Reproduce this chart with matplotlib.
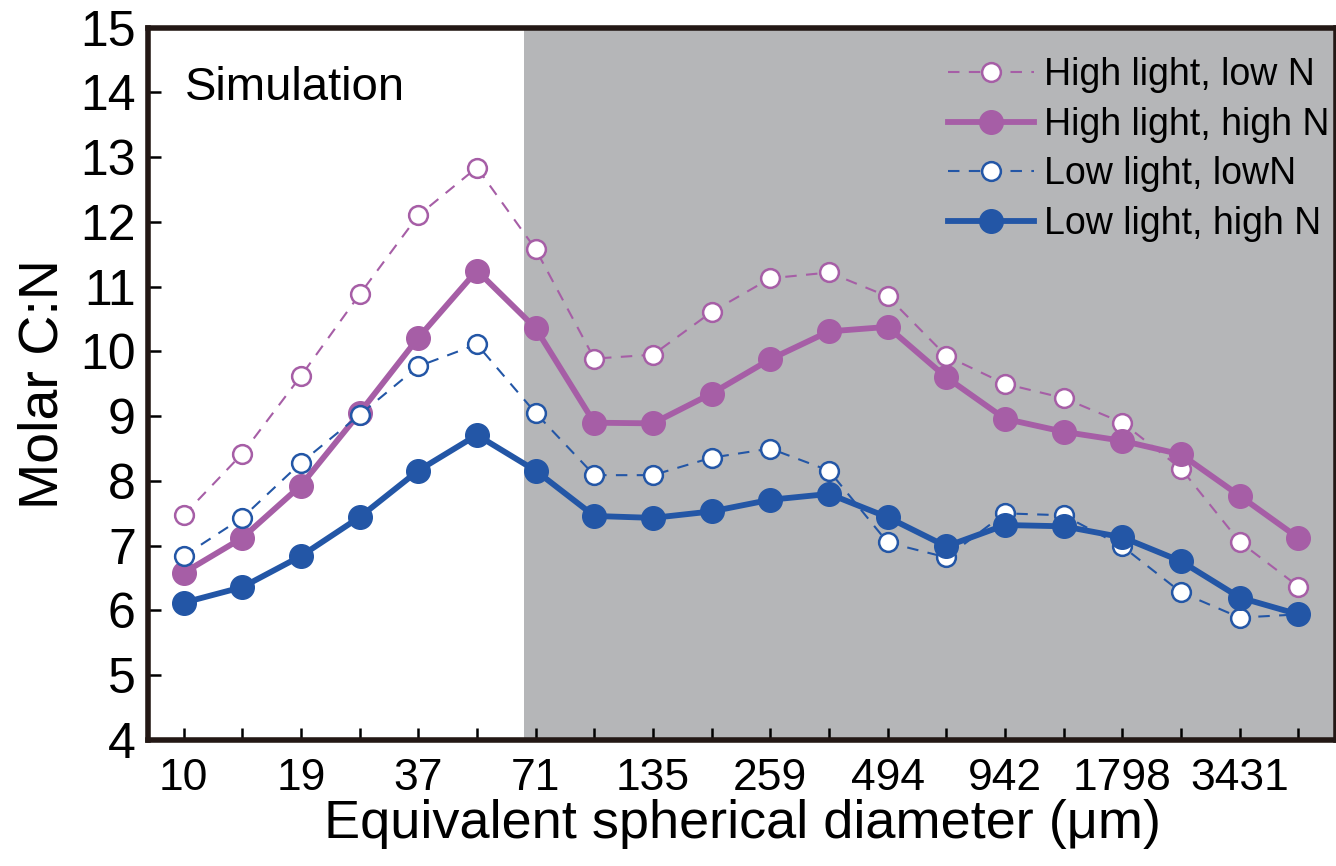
import matplotlib
matplotlib.use("Agg")
import matplotlib.pyplot as plt

plt.rcParams["font.family"] = ["Liberation Sans", "DejaVu Sans"]

# size classes (equivalent spherical diameter, um); labels on every other class
size_labels = ["10", "", "19", "", "37", "", "71", "", "135", "", "259", "",
               "494", "", "942", "", "1798", "", "3431", ""]

hl_low_n = [7.47, 8.42, 9.62, 10.88, 12.10, 12.84, 11.58, 9.89, 9.95, 10.61,
            11.13, 11.22, 10.85, 9.93, 9.50, 9.28, 8.90, 8.19, 7.06, 6.37]
hl_high_n = [6.58, 7.12, 7.93, 9.05, 10.21, 11.25, 10.36, 8.90, 8.89, 9.35,
             9.88, 10.31, 10.38, 9.60, 8.96, 8.76, 8.62, 8.41, 7.77, 7.12]
ll_low_n = [6.84, 7.43, 8.28, 9.02, 9.77, 10.11, 9.05, 8.09, 8.09, 8.36,
            8.50, 8.16, 7.05, 6.82, 7.50, 7.47, 6.99, 6.28, 5.89, 5.94]
ll_high_n = [6.12, 6.36, 6.84, 7.44, 8.16, 8.71, 8.16, 7.46, 7.43, 7.53,
             7.71, 7.80, 7.44, 6.99, 7.32, 7.30, 7.13, 6.76, 6.20, 5.94]

purple = "#a65ea6"
blue = "#2356a6"
x = list(range(len(size_labels)))

fig = plt.figure(figsize=(13.36, 8.66), dpi=100)
ax = fig.add_axes([0.111, 0.1455, 0.889, 0.8225])

# shaded region for the larger size classes
ax.axvspan(5.81, 25, color="#b5b6b8", zorder=0, lw=0)

dash = (0, (5.5, 4.5))
ax.plot(x, hl_low_n, color=purple, lw=1.5, ls=dash, marker="o",
        ms=13.5, mfc="white", mec=purple, mew=1.8, label="High light, low N", zorder=3)
ax.plot(x, hl_high_n, color=purple, lw=4.2, marker="o", ms=17,
        mfc=purple, mec=purple, label="High light, high N", zorder=3)
ax.plot(x, ll_low_n, color=blue, lw=1.5, ls=dash, marker="o",
        ms=13.5, mfc="white", mec=blue, mew=1.8, label="Low light, lowN", zorder=3)
ax.plot(x, ll_high_n, color=blue, lw=4.2, marker="o", ms=17,
        mfc=blue, mec=blue, label="Low light, high N", zorder=3)

ax.set_xlim(-0.6, 19.64)
ax.set_ylim(4, 15)
ax.set_xticks(x)
ax.set_xticklabels(size_labels)
ax.set_yticks(range(4, 16))
ax.tick_params(direction="in", length=9, width=1.8)
ax.tick_params(axis="x", labelsize=32, pad=13)
ax.tick_params(axis="y", labelsize=36, pad=9)
for s in ax.spines.values():
    s.set_linewidth(4)
    s.set_color("#231815")

ax.set_xlabel("Equivalent spherical diameter (\u03bcm)", fontsize=39, labelpad=0)
ax.set_ylabel("Molar C:N", fontsize=40, labelpad=8)

ax.text(0.031, 0.916, "Simulation", transform=ax.transAxes, fontsize=34,
        va="center", ha="left")

leg = ax.legend(loc="upper right", bbox_to_anchor=(1.013, 0.99), frameon=False,
                fontsize=27, handlelength=2.3, handletextpad=0.25,
                labelspacing=0.36, borderaxespad=0.2)

fig.savefig("out.png", dpi=100)
